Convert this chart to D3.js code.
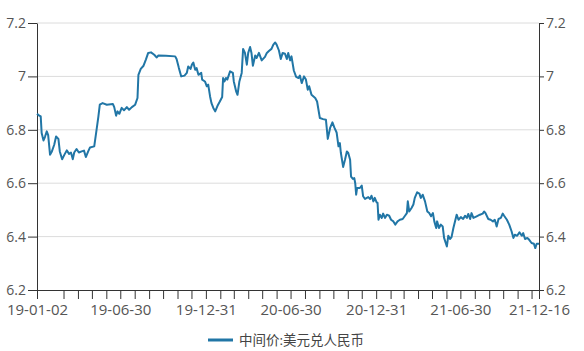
<!DOCTYPE html>
<html>
<head>
<meta charset="utf-8">
<script src="https://cdn.jsdelivr.net/npm/d3@7"></script>
<style>
  body { margin: 0; background: #fff; }
  text { font-family: "Open Sans", "Noto Sans CJK SC", sans-serif; }
</style>
</head>
<body>
<script>
var W = 584;
var H = 351;
var margin = { top: 23, right: 45, bottom: 61, left: 37 };
var w = W - margin.left - margin.right;
var h = H - margin.top - margin.bottom;

var seriesName = "中间价:美元兑人民币";

// sample dates
var dates = [
    "2019-01-02","2019-01-06","2019-01-10","2019-01-12","2019-01-16","2019-01-19","2019-01-23","2019-01-26",
    "2019-01-30","2019-02-03","2019-02-08","2019-02-12","2019-02-17","2019-02-20","2019-02-25","2019-03-02",
    "2019-03-07","2019-03-12","2019-03-16","2019-03-20","2019-03-23","2019-03-28","2019-04-02","2019-04-08",
    "2019-04-13","2019-04-17","2019-04-22","2019-04-26","2019-05-05","2019-05-10","2019-05-14","2019-05-17",
    "2019-05-23","2019-06-01","2019-06-14","2019-06-17","2019-06-21","2019-06-24","2019-06-28","2019-07-03",
    "2019-07-08","2019-07-14","2019-07-19","2019-07-25","2019-08-01","2019-08-06","2019-08-08","2019-08-13",
    "2019-08-19","2019-08-24","2019-08-29","2019-09-04","2019-09-11","2019-09-16","2019-09-20","2019-10-06",
    "2019-10-26","2019-10-29","2019-11-03","2019-11-08","2019-11-15","2019-11-20","2019-11-23","2019-11-28",
    "2019-12-01","2019-12-04","2019-12-08","2019-12-11","2019-12-15","2019-12-21","2019-12-23","2019-12-29",
    "2020-01-02","2020-01-05","2020-01-09","2020-01-12","2020-01-16","2020-01-20","2020-01-25","2020-01-30",
    "2020-02-04","2020-02-06","2020-02-09","2020-02-12","2020-02-15","2020-02-21","2020-02-27","2020-02-29",
    "2020-03-05","2020-03-08","2020-03-12","2020-03-17","2020-03-20","2020-03-24","2020-03-28","2020-03-31",
    "2020-04-04","2020-04-07","2020-04-10","2020-04-15","2020-04-18","2020-04-23","2020-04-29","2020-05-06",
    "2020-05-10","2020-05-15","2020-05-20","2020-05-24","2020-05-28","2020-05-31","2020-06-05","2020-06-09",
    "2020-06-13","2020-06-18","2020-06-22","2020-06-25","2020-06-29","2020-07-02","2020-07-07","2020-07-12",
    "2020-07-17","2020-07-20","2020-07-24","2020-07-29","2020-08-02","2020-08-06","2020-08-09","2020-08-14",
    "2020-08-22","2020-08-26","2020-09-01","2020-09-08","2020-09-14","2020-09-18","2020-09-23","2020-09-28",
    "2020-10-02","2020-10-07","2020-10-11","2020-10-14","2020-10-16","2020-10-21","2020-10-25","2020-10-29",
    "2020-11-01","2020-11-05","2020-11-07","2020-11-11","2020-11-14","2020-11-16","2020-11-18","2020-11-20",
    "2020-11-26","2020-11-30","2020-12-03","2020-12-07","2020-12-14","2020-12-18","2020-12-21","2020-12-25",
    "2020-12-28","2021-01-01","2021-01-03","2021-01-05","2021-01-08","2021-01-12","2021-01-15","2021-01-19",
    "2021-01-23","2021-01-28","2021-02-01","2021-02-06","2021-02-10","2021-02-15","2021-02-20","2021-02-26",
    "2021-03-03","2021-03-07","2021-03-09","2021-03-12","2021-03-17","2021-03-21","2021-03-24","2021-03-29",
    "2021-04-03","2021-04-06","2021-04-10","2021-04-15","2021-04-20","2021-04-24","2021-04-28","2021-05-02",
    "2021-05-05","2021-05-09","2021-05-11","2021-05-15","2021-05-19","2021-05-23","2021-05-26","2021-06-01",
    "2021-06-04","2021-06-08","2021-06-11","2021-06-15","2021-06-22","2021-06-26","2021-07-01","2021-07-06",
    "2021-07-10","2021-07-14","2021-07-17","2021-07-21","2021-07-24","2021-07-28","2021-08-04","2021-08-11",
    "2021-08-17","2021-08-20","2021-08-23","2021-08-29","2021-09-03","2021-09-08","2021-09-12","2021-09-16",
    "2021-09-20","2021-09-25","2021-09-29","2021-10-02","2021-10-08","2021-10-13","2021-10-18","2021-10-22",
    "2021-10-25","2021-10-30","2021-11-04","2021-11-09","2021-11-12","2021-11-16","2021-11-21","2021-11-25",
    "2021-11-30","2021-12-05","2021-12-08","2021-12-11","2021-12-16"
];

// USD/CNY central parity
var rates = [
    6.860,6.854,6.850,6.788,6.760,6.773,6.794,6.780,
    6.707,6.719,6.744,6.775,6.766,6.719,6.690,6.707,
    6.723,6.710,6.715,6.690,6.715,6.728,6.715,6.719,
    6.722,6.698,6.719,6.734,6.738,6.800,6.850,6.894,
    6.900,6.894,6.897,6.885,6.853,6.869,6.860,6.882,
    6.873,6.885,6.875,6.885,6.894,6.919,7.006,7.028,
    7.040,7.063,7.088,7.090,7.081,7.071,7.078,7.077,
    7.075,7.065,7.031,7.000,7.003,7.013,7.037,7.028,
    7.044,7.052,7.025,7.031,7.006,7.013,6.988,6.981,
    6.963,6.969,6.925,6.900,6.882,6.869,6.890,6.906,
    6.923,6.994,6.981,6.994,6.988,7.019,7.013,6.981,
    6.944,6.931,6.981,7.013,7.103,7.088,7.044,7.088,
    7.110,7.088,7.040,7.078,7.069,7.088,7.060,7.073,
    7.088,7.096,7.103,7.119,7.127,7.119,7.097,7.065,
    7.088,7.085,7.065,7.088,7.060,7.075,7.022,6.998,
    6.994,7.003,6.975,7.000,6.988,6.950,6.963,6.931,
    6.919,6.906,6.844,6.840,6.838,6.766,6.807,6.828,
    6.809,6.790,6.738,6.750,6.715,6.661,6.688,6.719,
    6.713,6.688,6.625,6.616,6.619,6.600,6.557,6.582,
    6.582,6.591,6.551,6.541,6.548,6.541,6.553,6.532,
    6.545,6.528,6.526,6.463,6.482,6.470,6.486,6.470,
    6.482,6.478,6.463,6.457,6.445,6.457,6.463,6.466,
    6.478,6.488,6.532,6.494,6.507,6.520,6.545,6.566,
    6.561,6.545,6.557,6.532,6.494,6.488,6.476,6.488,
    6.457,6.432,6.457,6.432,6.445,6.438,6.395,6.363,
    6.403,6.391,6.398,6.432,6.482,6.463,6.473,6.466,
    6.478,6.470,6.485,6.466,6.488,6.470,6.476,6.482,
    6.486,6.494,6.488,6.466,6.463,6.457,6.463,6.438,
    6.466,6.470,6.486,6.478,6.463,6.445,6.420,6.395,
    6.407,6.403,6.416,6.403,6.413,6.391,6.395,6.388,
    6.376,6.373,6.357,6.373,6.373
];

var labelDates = ["2019-01-02","2019-06-30","2019-12-31","2020-06-30","2020-12-31","2021-06-30","2021-12-16"];
var yTicks = [6.2, 6.4, 6.6, 6.8, 7, 7.2];

var parse = d3.timeParse("%Y-%m-%d");
var fmt = d3.timeFormat("%y-%m-%d");

var data = dates.map(function (d, i) {
    return { date: parse(d), value: rates[i] };
});

var start = data[0].date;
var end = data[data.length - 1].date;

var svg = d3.select("body")
    .append("svg")
    .attr("width", W)
    .attr("height", H)
    .append("g")
    .attr("transform", "translate(" + margin.left + "," + margin.top + ")");

var xScale = d3.scaleTime()
    .domain([start, end])
    .range([0, w]);

var yScale = d3.scaleLinear()
    .domain([6.2, 7.2])
    .range([h, 0]);

// grid lines
svg.append("g")
    .selectAll("line")
    .data(yTicks.slice(1))
    .enter()
    .append("line")
    .attr("x1", 0)
    .attr("x2", w)
    .attr("y1", function (d) { return yScale(d); })
    .attr("y2", function (d) { return yScale(d); })
    .attr("stroke", "#dcdcdc")
    .attr("stroke-width", 1);

// month-end ticks plus first and last day
var monthEnds = d3.timeMonth.range(d3.timeMonth.offset(start, 1), end).map(function (d) {
    return d3.timeDay.offset(d, -1);
});
var xTickVals = [start].concat(monthEnds).concat([end]);

var xAxis = d3.axisBottom(xScale)
    .tickValues(xTickVals)
    .tickSize(9)
    .tickSizeOuter(0)
    .tickPadding(5)
    .tickFormat(function (d) {
        var s = d3.timeFormat("%Y-%m-%d")(d);
        return labelDates.indexOf(s) >= 0 ? fmt(d) : "";
    });

var xAxisGroup = svg.append("g")
    .attr("class", "x-axis")
    .attr("transform", "translate(0," + h + ")")
    .call(xAxis);

var yFormat = function (d) { return String(+d.toFixed(1)); };

var yAxisLeft = d3.axisLeft(yScale)
    .tickValues(yTicks)
    .tickSize(9)
    .tickSizeOuter(0)
    .tickPadding(2)
    .tickFormat(yFormat);

var yAxisRight = d3.axisRight(yScale)
    .tickValues(yTicks)
    .tickSize(5)
    .tickSizeOuter(0)
    .tickPadding(2)
    .tickFormat(yFormat);

svg.append("g").attr("class", "y-axis").call(yAxisLeft);
svg.append("g").attr("class", "y-axis")
    .attr("transform", "translate(" + w + ",0)")
    .call(yAxisRight);

svg.selectAll(".domain").attr("stroke", "#333");
svg.selectAll(".tick line").attr("stroke", "#333");
svg.selectAll(".y-axis text").attr("fill", "#555").style("font-size", "14px");
svg.selectAll(".x-axis text").attr("fill", "#555").style("font-size", "15px");

// the series line
var line = d3.line()
    .x(function (d) { return xScale(d.date); })
    .y(function (d) { return yScale(d.value); });

svg.append("path")
    .datum(data)
    .attr("fill", "none")
    .attr("stroke", "#2176a6")
    .attr("stroke-width", 2)
    .attr("stroke-linejoin", "round")
    .attr("d", line);

// legend
var legend = d3.select("svg").append("g")
    .attr("transform", "translate(208,340)");

legend.append("line")
    .attr("x1", 0)
    .attr("x2", 25)
    .attr("stroke", "#2176a6")
    .attr("stroke-width", 3);

legend.append("text")
    .attr("x", 31)
    .attr("y", 0)
    .attr("dy", "0.35em")
    .attr("fill", "#444")
    .style("font-size", "13.5px")
    .text(seriesName);
</script>
</body>
</html>
